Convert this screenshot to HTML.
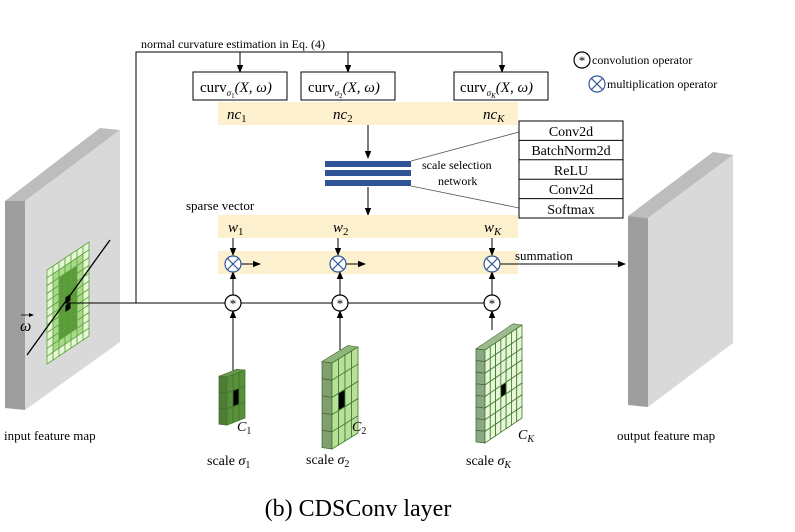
<!DOCTYPE html>
<html><head><meta charset="utf-8"><style>
html,body{margin:0;padding:0;background:#fff;}
svg{display:block;font-family:"Liberation Serif",serif;}
.it{font-style:italic;}
</style></head><body>
<svg id="s" width="795" height="532" viewBox="0 0 795 532" xmlns="http://www.w3.org/2000/svg">
<defs>
<marker id="a" markerWidth="8" markerHeight="8" refX="7" refY="4" orient="auto" markerUnits="userSpaceOnUse"><path d="M0,0.8 L8,4 L0,7.2 z" fill="#000"/></marker>
<marker id="s2" markerWidth="5" markerHeight="5" refX="4" refY="2.5" orient="auto" markerUnits="userSpaceOnUse"><path d="M0,0.5 L5,2.5 L0,4.5 z" fill="#000"/></marker>
</defs>
<polygon points="5,201 25,201 120,130 100,128" fill="#bdbdbd"/>
<polygon points="25,201 120,130 120,342 25,410" fill="#d9d9d9"/>
<polygon points="5,201 25,201 25,410 5,408" fill="#9e9e9e"/>
<g id="ingrid"></g>
<line x1="27" y1="355" x2="110" y2="240" stroke="#000" stroke-width="1.3"/>
<text x="20" y="331" font-size="16" class="it">ω</text>
<line x1="21" y1="315" x2="33" y2="315" stroke="#000" stroke-width="0.8" marker-end="url(#s2)"/>
<polygon points="628,216 648,218 733,155 713,152" fill="#bdbdbd"/>
<polygon points="648,218 733,155 733,343 648,407" fill="#d9d9d9"/>
<polygon points="628,216 648,218 648,407 628,405" fill="#9e9e9e"/>
<polyline points="136,303 136,52 502,52" fill="none" stroke="#000" stroke-width="1"/>
<line x1="240" y1="52" x2="240" y2="72" stroke="#000" marker-end="url(#a)"/>
<line x1="348" y1="52" x2="348" y2="72" stroke="#000" marker-end="url(#a)"/>
<line x1="502" y1="52" x2="502" y2="72" stroke="#000" marker-end="url(#a)"/>
<text x="141" y="48" font-size="12">normal curvature estimation in Eq. (4)</text>
<rect x="193" y="72" width="94" height="28" fill="#fff" stroke="#000"/>
<rect x="301" y="72" width="94" height="28" fill="#fff" stroke="#000"/>
<rect x="454" y="72" width="94" height="28" fill="#fff" stroke="#000"/>
<text x="200" y="92" font-size="15">curv<tspan font-size="9" class="it" dy="4">σ</tspan><tspan font-size="7" dy="2">1</tspan><tspan dy="-6" class="it">(X, ω)</tspan></text>
<text x="308" y="92" font-size="15">curv<tspan font-size="9" class="it" dy="4">σ</tspan><tspan font-size="7" dy="2">2</tspan><tspan dy="-6" class="it">(X, ω)</tspan></text>
<text x="460" y="92" font-size="15">curv<tspan font-size="9" class="it" dy="4">σ</tspan><tspan font-size="7" class="it" dy="2">K</tspan><tspan dy="-6" class="it">(X, ω)</tspan></text>
<rect x="218" y="102" width="300" height="23" fill="#fdf0cf"/>
<text x="227" y="119" font-size="15" class="it">nc<tspan font-size="11" font-style="normal" dy="3">1</tspan></text>
<text x="333" y="119" font-size="15" class="it">nc<tspan font-size="11" font-style="normal" dy="3">2</tspan></text>
<text x="483" y="119" font-size="15" class="it">nc<tspan font-size="11" dy="3">K</tspan></text>
<line x1="368" y1="125" x2="368" y2="158" stroke="#000" marker-end="url(#a)"/>
<rect x="325" y="161" width="86" height="6" fill="#2f5597"/>
<rect x="325" y="170" width="86" height="6" fill="#2f5597"/>
<rect x="325" y="180" width="86" height="6" fill="#2f5597"/>
<line x1="411" y1="161" x2="519" y2="132" stroke="#555" stroke-width="0.8"/>
<line x1="411" y1="186" x2="519" y2="208" stroke="#555" stroke-width="0.8"/>
<text x="422" y="169" font-size="12">scale selection</text>
<text x="438" y="185" font-size="12">network</text>
<g font-size="14" text-anchor="middle">
<rect x="519" y="121" width="104" height="97" fill="#fff" stroke="#000"/>
<line x1="519" y1="140.4" x2="623" y2="140.4" stroke="#000"/>
<line x1="519" y1="159.8" x2="623" y2="159.8" stroke="#000"/>
<line x1="519" y1="179.2" x2="623" y2="179.2" stroke="#000"/>
<line x1="519" y1="198.6" x2="623" y2="198.6" stroke="#000"/>
<text x="571" y="136">Conv2d</text>
<text x="571" y="155">BatchNorm2d</text>
<text x="571" y="175">ReLU</text>
<text x="571" y="194">Conv2d</text>
<text x="571" y="214">Softmax</text>
</g>
<line x1="368" y1="187" x2="368" y2="215" stroke="#000" marker-end="url(#a)"/>
<text x="186" y="210" font-size="13">sparse vector</text>
<rect x="218" y="215" width="300" height="23" fill="#fdf0cf"/>
<text x="228" y="232" font-size="15" class="it">w<tspan font-size="11" font-style="normal" dy="3">1</tspan></text>
<text x="333" y="232" font-size="15" class="it">w<tspan font-size="11" font-style="normal" dy="3">2</tspan></text>
<text x="484" y="232" font-size="15" class="it">w<tspan font-size="11" dy="3">K</tspan></text>
<rect x="218" y="251" width="300" height="23" fill="#fdf0cf"/>
<g stroke="#000">
<line x1="233" y1="238" x2="233" y2="255" marker-end="url(#a)"/>
<line x1="338" y1="238" x2="338" y2="255" marker-end="url(#a)"/>
<line x1="492" y1="238" x2="492" y2="255" marker-end="url(#a)"/>
<line x1="241" y1="264" x2="260" y2="264" marker-end="url(#a)"/>
<line x1="346" y1="264" x2="365" y2="264" marker-end="url(#a)"/>
<line x1="500" y1="264" x2="625" y2="264" marker-end="url(#a)"/>
<line x1="67" y1="303" x2="484" y2="303"/>
<line x1="233" y1="295" x2="233" y2="272" marker-end="url(#a)"/>
<line x1="340" y1="295" x2="340" y2="272" marker-end="url(#a)"/>
<line x1="492" y1="295" x2="492" y2="272" marker-end="url(#a)"/>
<line x1="233" y1="372" x2="233" y2="311" marker-end="url(#a)"/>
<line x1="340" y1="350" x2="340" y2="311" marker-end="url(#a)"/>
<line x1="492" y1="330" x2="492" y2="311" marker-end="url(#a)"/>
</g>
<text x="515" y="260" font-size="13">summation</text>
<g id="ops"></g>
<g id="kern"></g>
<text x="592" y="64" font-size="12">convolution operator</text>
<text x="607" y="88" font-size="12">multiplication operator</text>
<text x="237" y="431" font-size="14" class="it">C<tspan font-size="10" font-style="normal" dy="3">1</tspan></text>
<text x="352" y="431" font-size="14" class="it">C<tspan font-size="10" font-style="normal" dy="3">2</tspan></text>
<text x="518" y="439" font-size="14" class="it">C<tspan font-size="10" dy="3">K</tspan></text>
<text x="207" y="465" font-size="14">scale <tspan class="it">σ</tspan><tspan font-size="10" dy="3">1</tspan></text>
<text x="306" y="464" font-size="14">scale <tspan class="it">σ</tspan><tspan font-size="10" dy="3">2</tspan></text>
<text x="466" y="465" font-size="14">scale <tspan class="it">σ</tspan><tspan font-size="10" class="it" dy="3">K</tspan></text>
<text x="4" y="440" font-size="13">input feature map</text>
<text x="617" y="440" font-size="13">output feature map</text>
<text x="358" y="516" font-size="24" text-anchor="middle">(b) CDSConv layer</text>
</svg>
<script>
var NS="http://www.w3.org/2000/svg";
function el(p,t,a){var e=document.createElementNS(NS,t);for(var k in a)e.setAttribute(k,a[k]);p.appendChild(e);return e;}
function circ(p,cx,cy,type){
 el(p,"circle",{cx:cx,cy:cy,r:8,fill:"#fff",stroke:type=="x"?"#2f5597":"#000","stroke-width":1.2});
 if(type=="x"){var d=5.5;el(p,"line",{x1:cx-d,y1:cy-d,x2:cx+d,y2:cy+d,stroke:"#2f5597","stroke-width":1.2});el(p,"line",{x1:cx-d,y1:cy+d,x2:cx+d,y2:cy-d,stroke:"#2f5597","stroke-width":1.2});}
 else{var t=el(p,"text",{x:cx,y:cy+5,"font-size":13,"text-anchor":"middle"});t.textContent="*";}
}
var ops=document.getElementById("ops");
[233,338,492].forEach(function(x){circ(ops,x,264,"x");});
[233,340,492].forEach(function(x){circ(ops,x,303,"*");});
circ(ops,582,60,"*");circ(ops,597,84,"x");
function grid(p,L,R,yl,yr,h,cols,rows,fill,stroke,fn){
 function pt(u,v){return [L+(R-L)*u, yl+(yr-yl)*u + h*v];}
 for(var i=0;i<cols;i++)for(var j=0;j<rows;j++){
  var a=pt(i/cols,j/rows),b=pt((i+1)/cols,j/rows),c=pt((i+1)/cols,(j+1)/rows),d=pt(i/cols,(j+1)/rows);
  el(p,"polygon",{points:[a,b,c,d].map(function(q){return q.join(",")}).join(" "),fill:fn?fn(i,j):fill,stroke:stroke,"stroke-width":0.8});
 }
}
function kernel(xd,xf,xr,yTL,yTR,h,cols,rows,front,side,top,bi,bj){
 var k=document.getElementById("kern");
 var dy=(xf-xd)*0.35;
 el(k,"polygon",{points:[xd,yTL-dy+2,xf,yTL,xr,yTR,xr-(xf-xd),yTR-dy+2].join(" "),fill:top,stroke:"#4a6b3a","stroke-width":0.6});
 grid(k,xd,xf,yTL-dy+2,yTL,h,1,rows,side,"#4a6b3a");
 grid(k,xf,xr,yTL,yTR,h,cols,rows,front,"#3b7a2a",function(i,j){return (i==bi&&j==bj)?"#000":front;});
}
kernel(219,227,245,377,370,48,3,3,"#5a8f3c","#4e7d34","#6a9a4c",1,1);
kernel(322,332,358,363,347,86,4,5,"#b9e09b","#7fa06c","#8fb57a",1,2);
kernel(476,485,522,350,325,93,7,8,"#e8f6d8","#8ba883","#9dbb8f",3,4);
var g=document.getElementById("ingrid");
grid(g,47,89,270,242,94,7,12,"#e2f4d2","#5aa53a",function(i,j){
 var di=Math.min(i,6-i), dj=Math.min(j,11-j);
 var lvl=Math.min(di, dj);
 if(i==3&&(j==5||j==6))return "#000";
 return lvl>=2?"#5c9a3c":(lvl==1?"#a9d88a":"#e6f6d6");
});
</script>
</body></html>
